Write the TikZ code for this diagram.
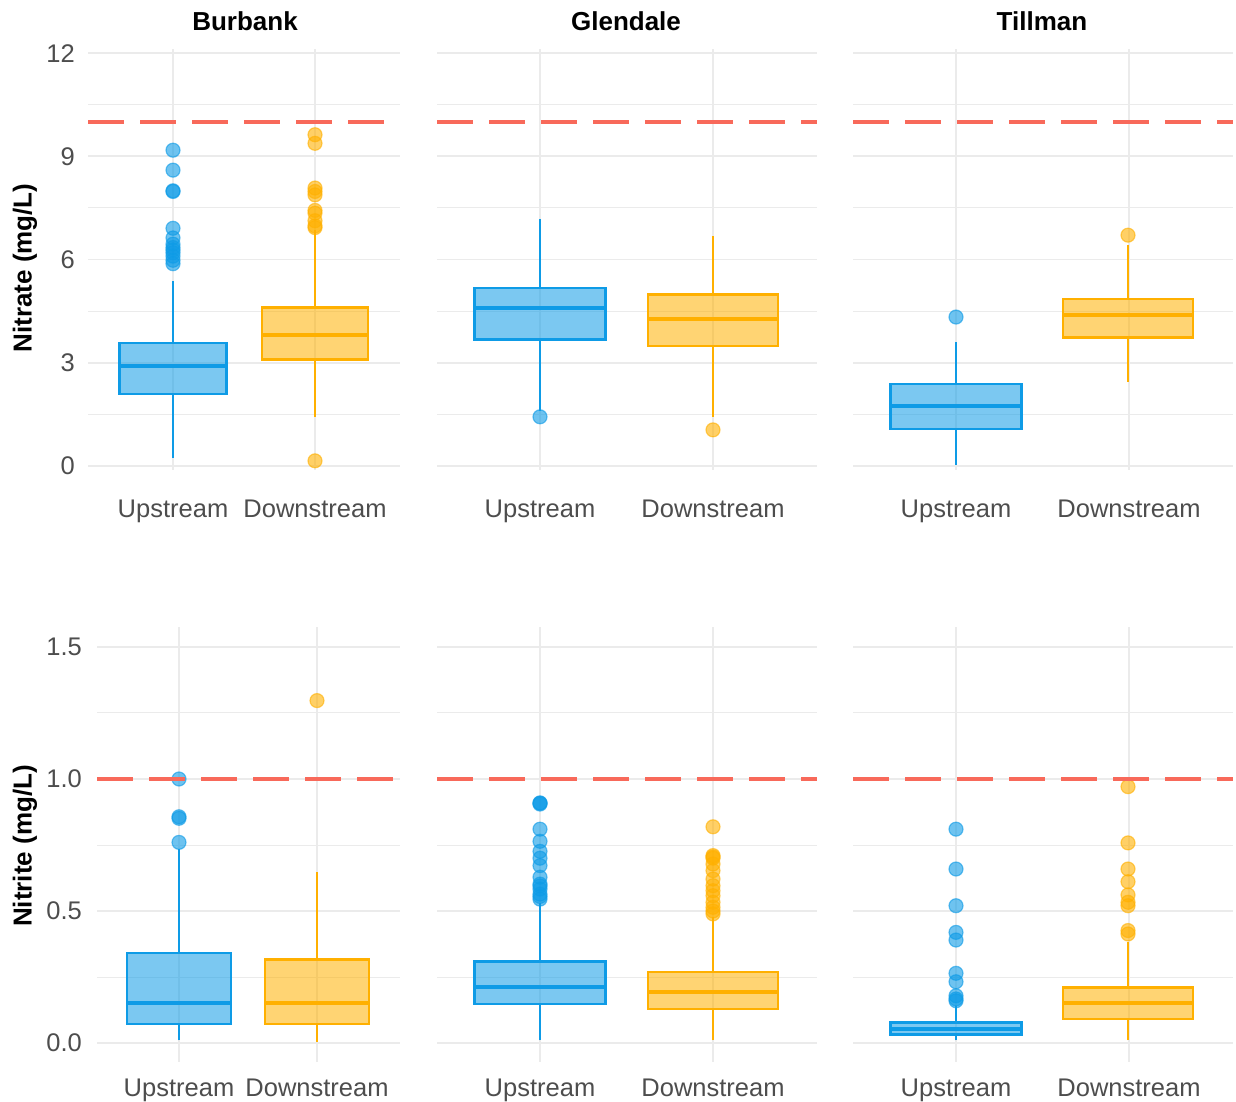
\documentclass[tikz,border=0pt]{standalone}
\usepackage{fontspec}
\setmainfont{Liberation Sans}
\usepackage{tikz}

\definecolor{upline}{HTML}{0E9BE6}
\definecolor{dnline}{HTML}{FFB000}
\definecolor{limit}{HTML}{F8695A}
\definecolor{gridc}{HTML}{EBEBEB}
\definecolor{ticktxt}{HTML}{4D4D4D}

\tikzset{
	major/.style={draw=gridc, line width=1.8pt},
	minor/.style={draw=gridc, line width=1pt},
	whisk/.style={line width=2.2pt},
	limitline/.style={draw=limit, line width=4pt, dash pattern=on 36pt off 16pt},
	ticklab/.style={text=ticktxt, font=\fontsize{25.5}{30}\selectfont, anchor=east, inner sep=0pt},
	catlab/.style={text=ticktxt, font=\fontsize{25.5}{30}\selectfont, anchor=base, inner sep=0pt},
	paneltitle/.style={font=\fontsize{26}{30}\selectfont\bfseries, anchor=base, inner sep=0pt},
	axtitle/.style={font=\fontsize{26}{30}\selectfont\bfseries, rotate=90, inner sep=0pt},
	outl/.style={fill opacity=0.6, draw opacity=0.6, line width=1.2pt}
}

% box: x, half width, lower whisker, q1, median, q3, upper whisker, colour (up/dn)
\newcommand{\bxp}[8]{%
	\draw[#8line, whisk] (#1,#3) -- (#1,#4) (#1,#6) -- (#1,#7);
	\filldraw[draw=#8line, fill=#8line, fill opacity=0.55, line width=2.4pt] (#1-#2,#4) rectangle (#1+#2,#6);
	\draw[#8line, line width=4pt] (#1-#2,#5) -- (#1+#2,#5);
}
% outliers: x, colour, values
\newcommand{\pts}[3]{%
	\foreach \v in {#3} \filldraw[draw=#2line, fill=#2line, outl] (#1,\v) circle (7pt);
}

\begin{document}
\begin{tikzpicture}[x=1pt,y=1pt]
	\useasboundingbox (0,0) rectangle (1236,1101);
	
	\node[paneltitle] (tBur) at (245,1070) {Burbank};
	\node[paneltitle] (tGle) at (626,1070) {Glendale};
	\node[paneltitle] (tTil) at (1042,1070) {Tillman};
	
	\node[axtitle] (yNa) at (25,833) {Nitrate (mg/L)};
	\node[axtitle] (yNi) at (25,255) {Nitrite (mg/L)};
	
	% nitrate row
	\begin{scope}[shift={(0pt,635pt)}, y=34.4pt]
		\foreach \l/\r/\xu/\xd in {88/400/173/315, 437/817/540/713, 853/1233/956/1129} {
			\foreach \v in {1.5,4.5,7.5,10.5} \draw[minor] (\l,\v) -- (\r,\v);
			\foreach \v in {0,3,...,12} \draw[major] (\l,\v) -- (\r,\v);
			\foreach \xx in {\xu,\xd} \draw[major] (\xx,-0.12) -- (\xx,12.12);
		}
		\foreach \v [count=\k] in {0,3,6,9,12}
			\node[ticklab] (na\k) at (75,\v) {\v};
		
		\bxp{173}{53.5}{0.23}{2.10}{2.91}{3.58}{5.38}{up}
		\pts{173}{up}{9.18,8.6,8.0,7.98,6.91,6.63,6.45,6.35,6.28,6.2,6.1,5.98,5.88}
		\bxp{315}{53}{1.43}{3.10}{3.81}{4.61}{6.85}{dn}
		\pts{315}{dn}{9.63,9.38,8.08,7.98,7.88,7.43,7.35,7.13,6.98,6.93,0.15}
		
		\bxp{540}{65.5}{1.6}{3.68}{4.58}{5.18}{7.18}{up}
		\pts{540}{up}{1.43}
		\bxp{713}{65}{1.43}{3.48}{4.26}{4.98}{6.70}{dn}
		\pts{713}{dn}{1.05}
		
		\bxp{956}{65.5}{0.03}{1.08}{1.73}{2.38}{3.6}{up}
		\pts{956}{up}{4.33}
		\bxp{1128}{65}{2.45}{3.73}{4.38}{4.85}{6.41}{dn}
		\pts{1128}{dn}{6.71}
		
		\foreach \l/\r in {88/400, 437/817, 853/1233}
			\draw[limitline] (\l,10) -- (\r,10);
	\end{scope}
	
	% nitrite row
	\begin{scope}[shift={(0pt,58pt)}, y=264pt]
		\foreach \l/\r/\xu/\xd in {97/400/179/317, 437/817/540/713, 853/1233/956/1129} {
			\foreach \v in {0.25,0.75,1.25} \draw[minor] (\l,\v) -- (\r,\v);
			\foreach \v in {0,0.5,1,1.5} \draw[major] (\l,\v) -- (\r,\v);
			\foreach \xx in {\xu,\xd} \draw[major] (\xx,-0.072) -- (\xx,1.576);
		}
		\foreach \v [count=\k] in {0.0,0.5,1.0,1.5}
			\node[ticklab] (ni\k) at (82,\v) {\v};
		
		\bxp{179}{52}{0.01}{0.072}{0.150}{0.341}{0.735}{up}
		\pts{179}{up}{1.0,0.857,0.851,0.76}
		\bxp{317}{52}{0.003}{0.072}{0.150}{0.316}{0.646}{dn}
		\pts{317}{dn}{1.297}
		
		\bxp{540}{65.5}{0.01}{0.148}{0.211}{0.308}{0.53}{up}
		\pts{540}{up}{0.909,0.909,0.905,0.81,0.764,0.726,0.70,0.672,0.628,0.602,0.595,0.583,0.564,0.555,0.545}
		\bxp{713}{65}{0.01}{0.129}{0.192}{0.270}{0.476}{dn}
		\pts{713}{dn}{0.819,0.71,0.705,0.70,0.678,0.653,0.621,0.596,0.577,0.558,0.533,0.514,0.50,0.489}
		
		\bxp{956}{65.5}{0.01}{0.032}{0.053}{0.078}{0.141}{up}
		\pts{956}{up}{0.81,0.659,0.520,0.419,0.390,0.264,0.232,0.179,0.167,0.160}
		\bxp{1128}{65}{0.01}{0.091}{0.150}{0.211}{0.381}{dn}
		\pts{1128}{dn}{0.971,0.758,0.659,0.611,0.561,0.533,0.520,0.426,0.413}
		
		\foreach \l/\r in {97/400, 437/817, 853/1233}
			\draw[limitline] (\l,1) -- (\r,1);
	\end{scope}
	
	% category labels
	\foreach \xu/\xd [count=\k] in {173/315, 540/713, 956/1129} {
		\node[catlab] (upA\k) at (\xu,583) {Upstream};
		\node[catlab] (dnA\k) at (\xd,583) {Downstream};
	}
	\foreach \xu/\xd [count=\k] in {179/317, 540/713, 956/1129} {
		\node[catlab] (upB\k) at (\xu,5) {Upstream};
		\node[catlab] (dnB\k) at (\xd,5) {Downstream};
	}
\end{tikzpicture}
\end{document}
